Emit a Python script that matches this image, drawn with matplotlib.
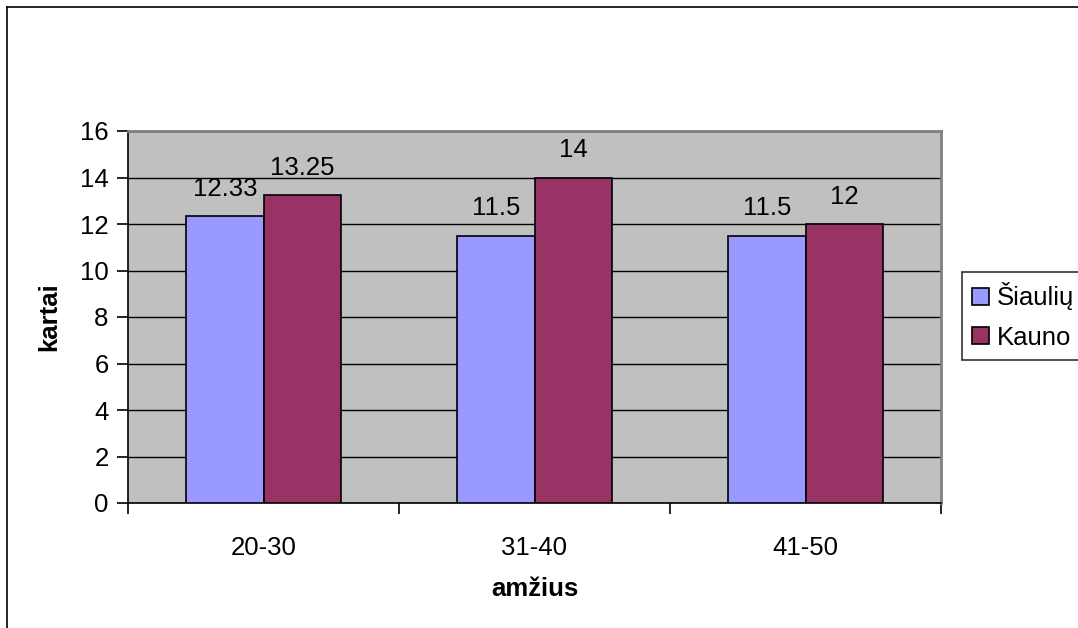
import matplotlib.pyplot as plt
import numpy as np

plt.rcParams['font.family'] = ['Liberation Sans', 'DejaVu Sans']

groups = ["20-30", "31-40", "41-50"]
siauliu = [12.33, 11.5, 11.5]
kauno = [13.25, 14, 12]
siauliu_labels = ["12.33", "11.5", "11.5"]
kauno_labels = ["13.25", "14", "12"]

FS = 18.5

fig = plt.figure(figsize=(10.78, 6.28), dpi=100)
W, H = 1078, 628

# outer chart frame (left and top edges)
fig.add_artist(plt.Line2D([7 / W, 7 / W], [0, 1 - 7 / H], color="black", lw=1.2))
fig.add_artist(plt.Line2D([7 / W, 1], [1 - 7 / H, 1 - 7 / H], color="black", lw=1.2))

left, right, top, bottom = 128, 941, 131, 503
ax = fig.add_axes([left / W, 1 - bottom / H, (right - left) / W, (bottom - top) / H])
ax.set_facecolor("#C0C0C0")

x = np.arange(len(groups))
width = 1 / 3.5
b1 = ax.bar(x - width / 2, siauliu, width, color="#9999FF", edgecolor="black", lw=1.2, label="Šiaulių", zorder=3)
b2 = ax.bar(x + width / 2, kauno, width, color="#993366", edgecolor="black", lw=1.2, label="Kauno", zorder=3)

for bars, labels in ((b1, siauliu_labels), (b2, kauno_labels)):
    for bar, lab in zip(bars, labels):
        ax.annotate(lab, (bar.get_x() + bar.get_width() / 2, bar.get_height()),
                    xytext=(0, 11), textcoords="offset points", ha="center", va="bottom",
                    fontsize=FS)

ax.set_xlim(-0.5, len(groups) - 0.5)
ax.set_ylim(0, 16)
ax.set_yticks(range(0, 17, 2))
ax.yaxis.grid(True, color="black", lw=1)
ax.set_axisbelow(True)

# category ticks sit on group boundaries
ax.set_xticks(np.arange(-0.5, len(groups), 1))
ax.set_xticklabels([])
ax.set_xticks(x, minor=True)
ax.set_xticklabels(groups, minor=True, fontsize=FS)
ax.tick_params(axis="x", which="minor", length=0, pad=24)
ax.tick_params(axis="x", which="major", length=8, width=1.2, direction="out")
ax.tick_params(axis="y", length=8, width=1.2, direction="out", labelsize=FS, pad=6)

for side in ("top", "right"):
    ax.spines[side].set_color("#808080")
    ax.spines[side].set_linewidth(2)
for side in ("left", "bottom"):
    ax.spines[side].set_linewidth(1.2)

ax.set_ylabel("kartai", fontsize=FS, fontweight="bold", labelpad=13)
ax.set_xlabel("amžius", fontsize=FS, fontweight="bold", labelpad=12)

leg = ax.legend(loc="center left", bbox_to_anchor=(962 / W, 1 - 316 / H),
                bbox_transform=fig.transFigure, fontsize=FS, frameon=True,
                fancybox=False, edgecolor="black", handlelength=0.65, handleheight=0.65,
                handletextpad=0.3, borderpad=0.4, labelspacing=0.6, borderaxespad=0)
leg.get_frame().set_linewidth(1.2)

fig.savefig("out.png", dpi=100, facecolor="white")
